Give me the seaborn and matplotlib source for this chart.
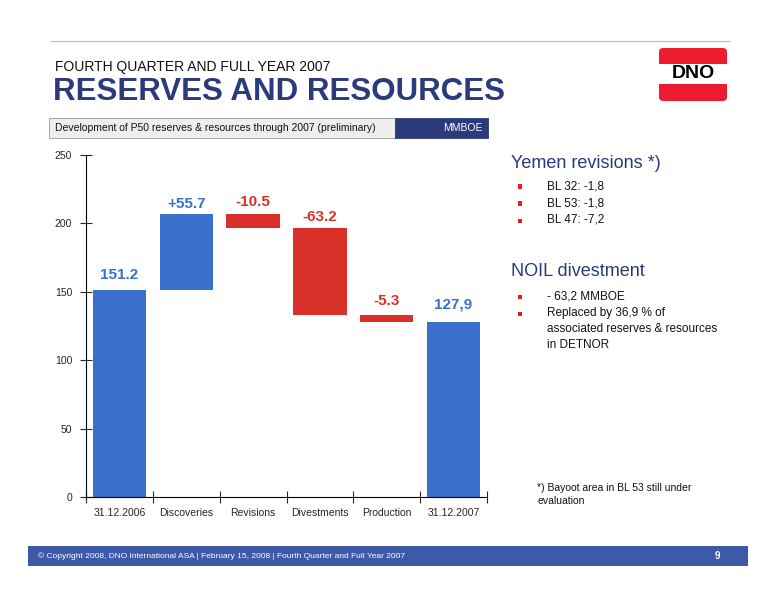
import matplotlib
matplotlib.use("Agg")
import matplotlib.pyplot as plt
import seaborn as sns
import numpy as np
import pandas as pd
from matplotlib.patches import Rectangle, FancyBboxPatch

categories = ["31.12.2006", "Discoveries", "Revisions", "Divestments", "Production", "31.12.2007"]
changes = [151.2, 55.7, -10.5, -63.2, -5.3, 127.9]
labels = ["151.2", "+55.7", "-10.5", "-63.2", "-5.3", "127,9"]
label_y = [162, 214, 216, 205, 143, 141]

BLUE = "#3a6fcc"
RED = "#d9302a"
NAVY = "#2b3a7a"

bottoms, heights, colors = [], [], []
run = 0.0
for i, v in enumerate(changes):
    if i == 0 or i == len(changes) - 1:
        bottoms.append(0); heights.append(v); colors.append(BLUE)
        run = v
    else:
        if v >= 0:
            bottoms.append(run); heights.append(v); colors.append(BLUE)
        else:
            bottoms.append(run + v); heights.append(-v); colors.append(RED)
        run += v
df = pd.DataFrame({"cat": categories, "h": heights, "b": bottoms})

sns.set_theme(style="white")
plt.rcParams['font.family'] = ['Liberation Sans', 'DejaVu Sans']
fig = plt.figure(figsize=(7.76, 6.0), dpi=100)
W, H = 776, 600
def fx(x): return x / W
def fy(y): return 1 - y / H

ax = fig.add_axes([fx(86), fy(497), fx(487) - fx(86), fy(155) - fy(497)])
ax.bar(df["cat"], df["h"], bottom=df["b"], color=colors, width=0.8, edgecolor="none")
ax.set_xlim(-0.5, 5.5)
ax.set_ylim(0, 250)
ax.set_yticks([0, 50, 100, 150, 200, 250])
for s in ["top", "right"]:
    ax.spines[s].set_visible(False)
for s in ["left", "bottom"]:
    ax.spines[s].set_color("black"); ax.spines[s].set_linewidth(0.8)
ax.tick_params(axis="y", direction="inout", length=8, width=0.8, left=True, labelsize=7.5, pad=6)
ax.tick_params(axis="x", which="major", length=0, labelsize=7.5, pad=8)
ax.set_xticks(np.arange(-0.5, 6, 1), minor=True)
ax.tick_params(axis="x", which="minor", direction="inout", length=8, width=0.8, bottom=True)
for i, (t, yv) in enumerate(zip(labels, label_y)):
    ax.text(i, yv, t, ha="center", va="center", fontsize=11, fontweight="bold",
            color=colors[i])

fig.add_artist(plt.Line2D([fx(50), fx(730)], [fy(41), fy(41)], color="#bbbbbb", lw=0.8))
fig.text(fx(55), fy(67), "FOURTH QUARTER AND FULL YEAR 2007", fontsize=10, va="center", color="#111111")
fig.text(fx(53), fy(92), "RESERVES AND RESOURCES", fontsize=22.5, fontweight="bold", va="center", color=NAVY)

fig.add_artist(FancyBboxPatch((fx(659), fy(101)), fx(68), fy(48) - fy(101),
                              boxstyle="round,pad=0,rounding_size=0.006", fc="#ec1c2e", ec="none"))
fig.add_artist(Rectangle((fx(659), fy(84)), fx(68), fy(64) - fy(84), fc="white", ec="none"))
fig.text(fx(693), fy(74), "DNO", fontsize=14, fontweight="bold", ha="center", va="center", color="black")

fig.add_artist(Rectangle((fx(49), fy(138)), fx(346), fy(118) - fy(138), fc="#eeeeee", ec="#999999", lw=0.6))
fig.add_artist(Rectangle((fx(395), fy(138)), fx(93), fy(118) - fy(138), fc=NAVY, ec=NAVY, lw=0.6))
fig.text(fx(55), fy(128), "Development of P50 reserves & resources through 2007 (preliminary)",
         fontsize=7.5, va="center", color="#111111")
fig.text(fx(483), fy(128), "MMBOE", fontsize=7.5, va="center", ha="right", color="white")

fig.text(fx(511), fy(163), "Yemen revisions *)", fontsize=13, va="center", color=NAVY)
def bullets(items, ys):
    for t, y in zip(items, ys):
        fig.add_artist(Rectangle((fx(518), fy(y + 2.5)), fx(4), fy(y - 1.5) - fy(y + 2.5), fc="#e02020", ec="none"))
        fig.text(fx(547), fy(y), t, fontsize=8.5, va="center", color="#111111")
bullets(["BL 32: -1,8", "BL 53: -1,8", "BL 47: -7,2"], [186, 203, 220])
fig.text(fx(511), fy(271), "NOIL divestment", fontsize=13, va="center", color=NAVY)
bullets(["- 63,2 MMBOE", "Replaced by 36,9 % of"], [296, 313])
fig.text(fx(547), fy(329), "associated reserves & resources", fontsize=8.5, va="center", color="#111111")
fig.text(fx(547), fy(345), "in DETNOR", fontsize=8.5, va="center", color="#111111")
fig.text(fx(537), fy(488), "*) Bayoot area in BL 53 still under", fontsize=7.5, va="center", color="#111111")
fig.text(fx(537), fy(501), "evaluation", fontsize=7.5, va="center", color="#111111")

fig.add_artist(Rectangle((fx(28), fy(566)), fx(720), fy(546) - fy(566), fc="#3d5aa8", ec="none"))
fig.text(fx(38), fy(556), "© Copyright 2008, DNO International ASA | February 15, 2008 | Fourth Quarter and Full Year 2007",
         fontsize=6, va="center", color="white")
fig.text(fx(720), fy(556), "9", fontsize=7, fontweight="bold", va="center", ha="right", color="white")

fig.savefig("out.png", dpi=100)
